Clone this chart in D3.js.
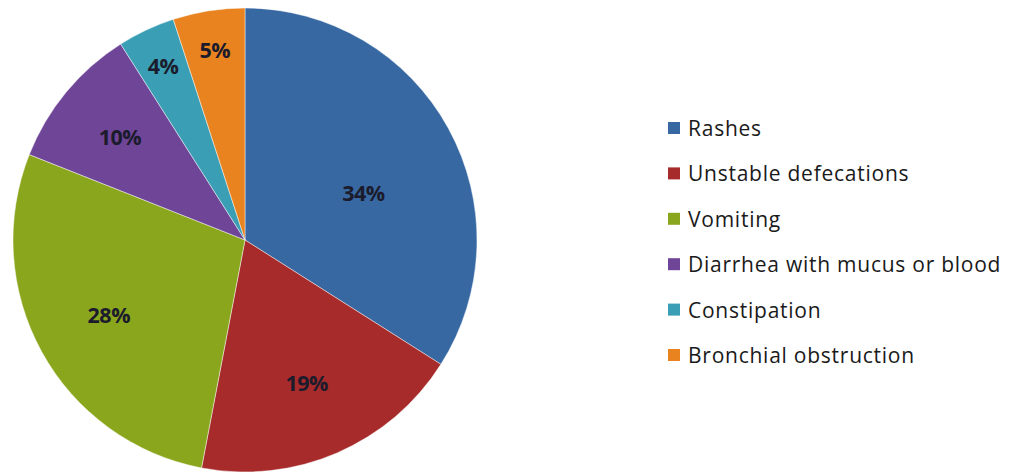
<!DOCTYPE html>
<html>
<head>
<meta charset="utf-8">
<script src="https://cdn.jsdelivr.net/npm/d3@7"></script>
<style>
  html, body { margin: 0; padding: 0; background: #ffffff; }
  svg { display: block; }
</style>
</head>
<body>
<svg id="chart" width="1009" height="472"></svg>
<script>
// Symptom categories and their shares (percent)
const categories = [
  "Rashes",
  "Unstable defecations",
  "Vomiting",
  "Diarrhea with mucus or blood",
  "Constipation",
  "Bronchial obstruction"
];
const values = [34, 19, 28, 10, 4, 5];
const colors = ["#3768a2", "#a72b2b", "#8aa61d", "#6f4598", "#3a9eb5", "#e8831f"];

const svg = d3.select("#chart");
const cx = 245, cy = 240, R = 232;

const data = categories.map((c, i) => ({ name: c, value: values[i], color: colors[i] }));
const total = d3.sum(values);

const pie = d3.pie().value(d => d.value).sort(null);
const arcs = pie(data);
const arc = d3.arc().innerRadius(0).outerRadius(R);

const g = svg.append("g").attr("transform", `translate(${cx},${cy})`);

g.selectAll("path.slice")
  .data(arcs)
  .enter().append("path")
  .attr("class", "slice")
  .attr("d", arc)
  .attr("fill", d => d.data.color)
  .attr("stroke", "rgba(255,255,255,0.45)")
  .attr("stroke-width", 1);

// Label radius: small slices push their label outward, the largest pulls it in
function labelRadius(frac) {
  if (frac < 0.06) return R * 0.83;
  if (frac > 0.3) return R * 0.55;
  if (frac < 0.15) return R * 0.7;
  return R * 0.67;
}
// The largest slice's label sits a little past its mid angle
function labelAngle(d) {
  const mid = (d.startAngle + d.endAngle) / 2;
  return d.data.value / total > 0.3 ? mid + 0.12 : mid;
}

g.selectAll("text.pct")
  .data(arcs)
  .enter().append("text")
  .attr("class", "pct")
  .attr("transform", d => {
    const r = labelRadius(d.data.value / total);
    const a = labelAngle(d);
    return `translate(${r * Math.sin(a)},${-r * Math.cos(a)})`;
  })
  .attr("text-anchor", "middle")
  .attr("dominant-baseline", "central")
  .attr("font-family", "'Open Sans', Lato, sans-serif")
  .attr("font-weight", "bold")
  .attr("font-size", 21.5)
  .attr("letter-spacing", -0.5)
  .attr("fill", "#1b1b2c")
  .text(d => Math.round(d.data.value / total * 100) + "%");

// Legend
const legendX = 668, legendY = 128, rowGap = 45.4;
const legend = svg.append("g");
const rows = legend.selectAll("g.row")
  .data(data)
  .enter().append("g")
  .attr("class", "row")
  .attr("transform", (d, i) => `translate(${legendX},${legendY + i * rowGap})`);

rows.append("rect")
  .attr("x", 0).attr("y", -6)
  .attr("width", 12).attr("height", 12)
  .attr("fill", d => d.color);

rows.append("text")
  .attr("x", 20)
  .attr("y", 0)
  .attr("dominant-baseline", "central")
  .attr("font-family", "'Open Sans', Lato, sans-serif")
  .attr("font-size", 21)
  .attr("letter-spacing", 0.75)
  .attr("fill", "#1a1a1a")
  .text(d => d.name);
</script>
</body>
</html>
